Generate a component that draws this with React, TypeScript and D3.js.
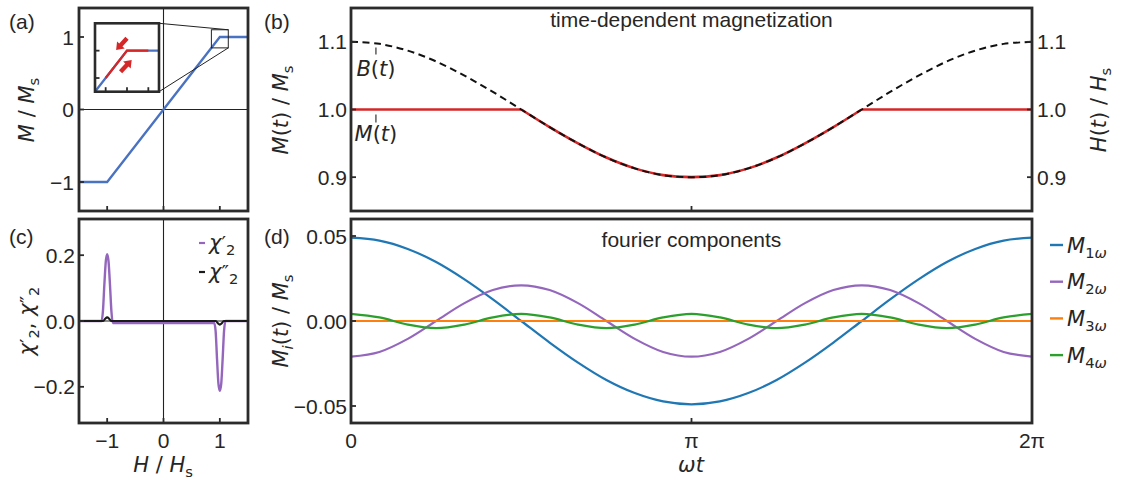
import React from 'react';
import * as d3 from 'd3';

const PI = Math.PI;

// ---------- panel (a): static magnetization curve ----------
const H_STATIC = [-1.5, -1.0, 1.0, 1.5];
const M_STATIC = [-1, -1, 1, 1];
const H_OSC = [0.9, 1.0, 1.1];
const M_OSC = [0.9, 1.0, 1.0];
const A_XTICKS = [-1, 0, 1];
const A_YTICKS = [-1, 0, 1];
const A_YLABELS = ['\u22121', '0', '1'];
const INSET_XDOM = [0.85, 1.15];
const INSET_YDOM = [0.85, 1.1];
const INSET_XTICKS = [0.9, 1.0, 1.1];
const INSET_YTICKS = [0.9, 1.0];
const ARROWS: [number, number][][] = [
  [[1.0, 1.045], [0.949, 1.002]],
  [[0.97, 0.923], [1.022, 0.966]],
];

// ---------- panel (b): time dependent magnetization ----------
const WT_PI = [0, 0.0833, 0.1667, 0.25, 0.3333, 0.4167, 0.5, 0.5833, 0.6667, 0.75, 0.8333, 0.9167, 1,
  1.0833, 1.1667, 1.25, 1.3333, 1.4167, 1.5, 1.5833, 1.6667, 1.75, 1.8333, 1.9167, 2];
const B_T = [1.1, 1.097, 1.087, 1.071, 1.05, 1.026, 1.0, 0.974, 0.95, 0.929, 0.913, 0.903, 0.9,
  0.903, 0.913, 0.929, 0.95, 0.974, 1.0, 1.026, 1.05, 1.071, 1.087, 1.097, 1.1];
const M_FLAT_PI = [[0, 0.5], [1.5, 2]];
const M_DIP_PI = [0.5, 0.5833, 0.6667, 0.75, 0.8333, 0.9167, 1, 1.0833, 1.1667, 1.25, 1.3333, 1.4167, 1.5];
const M_DIP = [1.0, 0.974, 0.95, 0.929, 0.913, 0.903, 0.9, 0.903, 0.913, 0.929, 0.95, 0.974, 1.0];
const M_SAT = 1.0;
const B_YTICKS = [0.9, 1.0, 1.1];
const B_YLABELS = ['0.9', '1.0', '1.1'];
const ANNOT_WT = 0.23;

// ---------- panel (c): second harmonic susceptibility ----------
const CHI1_H = [-1.5, -1.1, -1.075, -1.05, -1.025, -1.0, -0.975, -0.95, -0.925, -0.9,
  0.9, 0.925, 0.95, 0.975, 1.0, 1.025, 1.05, 1.075, 1.1, 1.5];
const CHI1 = [0, 0, 0.03, 0.11, 0.18, 0.203, 0.18, 0.11, 0.03, -0.006,
  -0.006, -0.03, -0.115, -0.19, -0.212, -0.19, -0.115, -0.03, 0, 0];
const CHI2_H = [-1.5, -1.07, -1.035, -1.0, -0.965, -0.93, 0.93, 0.965, 1.0, 1.035, 1.07, 1.5];
const CHI2 = [0, 0, 0.007, 0.011, 0.007, 0, 0, -0.007, -0.011, -0.007, 0, 0];
const C_YTICKS = [-0.2, 0, 0.2];
const C_YLABELS = ['\u22120.2', '0.0', '0.2'];
const C_XLABELS = ['\u22121', '0', '1'];

// ---------- panel (d): fourier components ----------
const M1W = [0.049, 0.0473, 0.0424, 0.0347, 0.0245, 0.0127, 0, -0.0127, -0.0245, -0.0347, -0.0424, -0.0473, -0.049,
  -0.0473, -0.0424, -0.0347, -0.0245, -0.0127, 0, 0.0127, 0.0245, 0.0347, 0.0424, 0.0473, 0.049];
const M2W = [-0.021, -0.0182, -0.0105, 0, 0.0105, 0.0182, 0.021, 0.0182, 0.0105, 0, -0.0105, -0.0182, -0.021,
  -0.0182, -0.0105, 0, 0.0105, 0.0182, 0.021, 0.0182, 0.0105, 0, -0.0105, -0.0182, -0.021];
const M3W = [0, 0, 0, 0, 0, 0, 0, 0, 0, 0, 0, 0, 0, 0, 0, 0, 0, 0, 0, 0, 0, 0, 0, 0, 0];
const M4W = [0.0042, 0.0021, -0.0021, -0.0042, -0.0021, 0.0021, 0.0042, 0.0021, -0.0021, -0.0042, -0.0021, 0.0021, 0.0042,
  0.0021, -0.0021, -0.0042, -0.0021, 0.0021, 0.0042, 0.0021, -0.0021, -0.0042, -0.0021, 0.0021, 0.0042];
const D_YTICKS = [-0.05, 0, 0.05];
const D_YLABELS = ['\u22120.05', '0.00', '0.05'];
const WT_TICKS = [0, PI, 2 * PI];
const WT_LABELS = ['0', '\u03c0', '2\u03c0'];
const FOURIER = [
  { name: '1', values: M1W, color: '#1f77b4' },
  { name: '2', values: M2W, color: '#9467bd' },
  { name: '3', values: M3W, color: '#ff7f0e' },
  { name: '4', values: M4W, color: '#2ca02c' },
];

const FONT = "'Liberation Sans', Arial, Helvetica, sans-serif";
const MATH = "'DejaVu Sans', sans-serif";
const INK = '#262626';
const FRAME = '#2b2b2b';
const BLUE = '#4a72c2';
const RED = '#d62728';
const PURPLE = '#9467bd';
const FS = 21;

type Seg = { t: string; i?: boolean; s?: 'sub' | 'sup'; dx?: number; scale?: number };

function MText({ x, y, segs, size = FS, anchor = 'start', rotate = false }:
  { x: number; y: number; segs: Seg[]; size?: number; anchor?: string; rotate?: boolean }) {
  let cur = 0;
  const kids = segs.map((s, k) => {
    const target = s.s === 'sub' ? size * 0.24 : s.s === 'sup' ? -size * 0.3 : 0;
    const dy = target - cur;
    cur = target;
    return (
      <tspan key={k} dy={dy} dx={s.dx ?? 0} fontStyle={s.i ? 'italic' : 'normal'}
        fontSize={size * (s.scale ?? (s.s ? 0.7 : 1))}>{s.t}</tspan>
    );
  });
  return (
    <text x={x} y={y} textAnchor={anchor as any} fontFamily={MATH} fontSize={size} fill={INK}
      transform={rotate ? `rotate(-90 ${x} ${y})` : undefined}>{kids}</text>
  );
}

const A = { x0: 79, x1: 248, y0: 8, y1: 211 };
const Bp = { x0: 351, x1: 1032, y0: 8, y1: 211 };
const C = { x0: 79, x1: 248, y0: 219, y1: 423 };
const D = { x0: 351, x1: 1032, y0: 219, y1: 423 };

function Frame({ p }: { p: { x0: number; x1: number; y0: number; y1: number } }) {
  return <rect x={p.x0} y={p.y0} width={p.x1 - p.x0} height={p.y1 - p.y0} fill="none" stroke={FRAME} strokeWidth={2.8} />;
}

function arrowPoly(x0: number, y0: number, x1: number, y1: number) {
  const dx = x1 - x0, dy = y1 - y0;
  const L = Math.hypot(dx, dy);
  const ux = dx / L, uy = dy / L, nx = -uy, ny = ux;
  const sw = 2.2, hw = 5.2, hl = 7;
  const bx = x1 - ux * hl, by = y1 - uy * hl;
  const pts = [
    [x0 + nx * sw, y0 + ny * sw], [bx + nx * sw, by + ny * sw], [bx + nx * hw, by + ny * hw],
    [x1, y1], [bx - nx * hw, by - ny * hw], [bx - nx * sw, by - ny * sw], [x0 - nx * sw, y0 - ny * sw],
  ];
  return pts.map(p => p.join(',')).join(' ');
}

const CHI_P: Seg[] = [{ t: '\u03c7', i: true }, { t: '\u2032', scale: 0.95 }, { t: '2', s: 'sub' }];
const CHI_PP: Seg[] = [{ t: '\u03c7', i: true }, { t: '\u2033', scale: 0.95 }, { t: '2', s: 'sub' }];

export default function App() {
  const TL = 5; // tick length
  const xa = d3.scaleLinear().domain([-1.5, 1.5]).range([A.x0, A.x1]);
  const ya = d3.scaleLinear().domain([-1.4, 1.4]).range([A.y1, A.y0]);
  const yc = d3.scaleLinear().domain([-0.31, 0.31]).range([C.y1, C.y0]);
  const xb = d3.scaleLinear().domain([0, 2 * PI]).range([Bp.x0, Bp.x1]);
  const yb = d3.scaleLinear().domain([0.85, 1.15]).range([Bp.y1, Bp.y0]);
  const yd = d3.scaleLinear().domain([-0.06, 0.06]).range([D.y1, D.y0]);
  const xi = d3.scaleLinear().domain(INSET_XDOM).range([95, 159]);
  const yi = d3.scaleLinear().domain(INSET_YDOM).range([91.7, 23.3]);

  const mk = (X: number[], Y: number[]) => X.map((v, k) => [v, Y[k]] as [number, number]);
  const lineA = d3.line<[number, number]>().x(d => xa(d[0])).y(d => ya(d[1]));
  const lineI = d3.line<[number, number]>().x(d => xi(d[0])).y(d => yi(d[1]));
  const lineC = d3.line<[number, number]>().x(d => xa(d[0])).y(d => yc(d[1])).curve(d3.curveMonotoneX);
  const lineB = d3.line<[number, number]>().x(d => xb(d[0] * PI)).y(d => yb(d[1])).curve(d3.curveCatmullRom.alpha(0.5));
  const lineBflat = d3.line<[number, number]>().x(d => xb(d[0] * PI)).y(d => yb(d[1]));
  const lineD = d3.line<[number, number]>().x(d => xb(d[0] * PI)).y(d => yd(d[1])).curve(d3.curveCatmullRom.alpha(0.5));

  const annX = xb(ANNOT_WT);
  const bAt = 1 + 0.1 * Math.cos(ANNOT_WT);

  return (
    <svg width={1128} height={482} style={{ position: 'absolute', left: 0, top: 0, background: '#fff' }}>
      <defs>
        <clipPath id="cA"><rect x={A.x0} y={A.y0} width={A.x1 - A.x0} height={A.y1 - A.y0} /></clipPath>
        <clipPath id="cB"><rect x={Bp.x0} y={Bp.y0} width={Bp.x1 - Bp.x0} height={Bp.y1 - Bp.y0} /></clipPath>
        <clipPath id="cC"><rect x={C.x0} y={C.y0} width={C.x1 - C.x0} height={C.y1 - C.y0} /></clipPath>
        <clipPath id="cD"><rect x={D.x0} y={D.y0} width={D.x1 - D.x0} height={D.y1 - D.y0} /></clipPath>
        <clipPath id="cI"><rect x={95} y={23.3} width={64} height={68.4} /></clipPath>
      </defs>
      <rect x={0} y={0} width={1128} height={482} fill="#fff" />

      {/* ================= panel (a) ================= */}
      <g clipPath="url(#cA)">
        <line x1={xa(0)} x2={xa(0)} y1={A.y0} y2={A.y1} stroke="#222" strokeWidth={1.1} />
        <line x1={A.x0} x2={A.x1} y1={ya(0)} y2={ya(0)} stroke="#222" strokeWidth={1.1} />
        <path d={lineA(mk(H_STATIC, M_STATIC)) || ''} fill="none" stroke={BLUE} strokeWidth={2.3} />
      </g>
      <rect x={xa(INSET_XDOM[0])} y={ya(INSET_YDOM[1])} width={xa(INSET_XDOM[1]) - xa(INSET_XDOM[0])}
        height={ya(INSET_YDOM[0]) - ya(INSET_YDOM[1])} fill="none" stroke="#222" strokeWidth={1} />
      <line x1={159} y1={23.3} x2={xa(INSET_XDOM[1])} y2={ya(INSET_YDOM[1])} stroke="#222" strokeWidth={1} />
      <line x1={159} y1={91.7} x2={xa(INSET_XDOM[1])} y2={ya(INSET_YDOM[0])} stroke="#222" strokeWidth={1} />
      <rect x={95} y={23.3} width={64} height={68.4} fill="#fff" />
      <g clipPath="url(#cI)">
        <path d={lineI(mk(H_STATIC, M_STATIC)) || ''} fill="none" stroke={BLUE} strokeWidth={2.3} />
        <path d={lineI(mk(H_OSC, M_OSC)) || ''} fill="none" stroke={RED} strokeWidth={2.3} />
      </g>
      {ARROWS.map((a, k) => (
        <polygon key={k} points={arrowPoly(xi(a[0][0]), yi(a[0][1]), xi(a[1][0]), yi(a[1][1]))} fill={RED} />
      ))}
      {INSET_XTICKS.map(t => <line key={t} x1={xi(t)} x2={xi(t)} y1={91.7} y2={91.7 - 4.5} stroke={FRAME} strokeWidth={1.8} />)}
      {INSET_YTICKS.map(t => <line key={t} x1={95} x2={95 + 4.5} y1={yi(t)} y2={yi(t)} stroke={FRAME} strokeWidth={1.8} />)}
      <rect x={95} y={23.3} width={64} height={68.4} fill="none" stroke={FRAME} strokeWidth={2.6} />

      {A_XTICKS.map(t => <line key={t} x1={xa(t)} x2={xa(t)} y1={A.y1} y2={A.y1 - TL} stroke={FRAME} strokeWidth={1.8} />)}
      {A_YTICKS.map((t, k) => (
        <g key={t}>
          <line x1={A.x0} x2={A.x0 + TL} y1={ya(t)} y2={ya(t)} stroke={FRAME} strokeWidth={1.8} />
          <text x={A.x0 - 5} y={ya(t) + 7.5} textAnchor="end" fontFamily={FONT} fontSize={FS} fill={INK}>{A_YLABELS[k]}</text>
        </g>
      ))}
      <Frame p={A} />
      <text x={9} y={29} fontFamily={FONT} fontSize={FS} fill={INK}>(a)</text>
      <MText x={34} y={110} anchor="middle" rotate segs={[{ t: 'M', i: true }, { t: ' / ' }, { t: 'M', i: true }, { t: 's', s: 'sub' }]} />

      {/* ================= panel (b) ================= */}
      <g clipPath="url(#cB)">
        {M_FLAT_PI.map((seg, k) => (
          <path key={k} d={lineBflat([[seg[0], M_SAT], [seg[1], M_SAT]]) || ''} fill="none" stroke={RED} strokeWidth={2.6} />
        ))}
        <path d={lineB(mk(M_DIP_PI, M_DIP)) || ''} fill="none" stroke={RED} strokeWidth={2.6} />
        <path d={lineB(mk(WT_PI, B_T)) || ''} fill="none" stroke="#111" strokeWidth={2} strokeDasharray="7,4.5" />
      </g>
      <line x1={annX} x2={annX} y1={yb(bAt) + 4} y2={yb(bAt) + 11} stroke="#333" strokeWidth={1.2} />
      <line x1={annX} x2={annX} y1={yb(1.0) + 5} y2={yb(1.0) + 13} stroke="#333" strokeWidth={1.2} />
      <MText x={annX} y={76} anchor="middle" segs={[{ t: 'B', i: true }, { t: '(' }, { t: 't', i: true }, { t: ')' }]} />
      <MText x={annX} y={141} anchor="middle" segs={[{ t: 'M', i: true }, { t: '(' }, { t: 't', i: true }, { t: ')' }]} />
      <line x1={xb(PI)} x2={xb(PI)} y1={Bp.y1} y2={Bp.y1 - TL} stroke={FRAME} strokeWidth={1.8} />
      {B_YTICKS.map((t, k) => (
        <g key={t}>
          <line x1={Bp.x0} x2={Bp.x0 + TL} y1={yb(t)} y2={yb(t)} stroke={FRAME} strokeWidth={1.8} />
          <line x1={Bp.x1} x2={Bp.x1 - TL} y1={yb(t)} y2={yb(t)} stroke={FRAME} strokeWidth={1.8} />
          <text x={Bp.x0 - 4} y={yb(t) + 7.5} textAnchor="end" fontFamily={FONT} fontSize={FS} fill={INK}>{B_YLABELS[k]}</text>
          <text x={Bp.x1 + 5} y={yb(t) + 7.5} textAnchor="start" fontFamily={FONT} fontSize={FS} fill={INK}>{B_YLABELS[k]}</text>
        </g>
      ))}
      <Frame p={Bp} />
      <text x={(Bp.x0 + Bp.x1) / 2} y={27} textAnchor="middle" fontFamily={FONT} fontSize={FS} fill={INK}>time-dependent magnetization</text>
      <text x={264} y={29} fontFamily={FONT} fontSize={FS} fill={INK}>(b)</text>
      <MText x={288} y={110} anchor="middle" rotate segs={[{ t: 'M', i: true }, { t: '(' }, { t: 't', i: true }, { t: ') / ' }, { t: 'M', i: true }, { t: 's', s: 'sub' }]} />
      <MText x={1106} y={110} anchor="middle" rotate segs={[{ t: 'H', i: true }, { t: '(' }, { t: 't', i: true }, { t: ') / ' }, { t: 'H', i: true }, { t: 's', s: 'sub' }]} />

      {/* ================= panel (c) ================= */}
      <g clipPath="url(#cC)">
        <line x1={xa(0)} x2={xa(0)} y1={C.y0} y2={C.y1} stroke="#222" strokeWidth={1.1} />
        <path d={lineC(mk(CHI1_H, CHI1)) || ''} fill="none" stroke={PURPLE} strokeWidth={2.4} />
        <line x1={C.x0} x2={C.x1} y1={yc(0)} y2={yc(0)} stroke="#222" strokeWidth={1.1} />
        <path d={lineC(mk(CHI2_H, CHI2)) || ''} fill="none" stroke="#1a1a1a" strokeWidth={2.2} />
      </g>
      {A_XTICKS.map((t, k) => (
        <g key={t}>
          <line x1={xa(t)} x2={xa(t)} y1={C.y1} y2={C.y1 - TL} stroke={FRAME} strokeWidth={1.8} />
          <text x={xa(t)} y={448} textAnchor="middle" fontFamily={FONT} fontSize={FS} fill={INK}>{C_XLABELS[k]}</text>
        </g>
      ))}
      {C_YTICKS.map((t, k) => (
        <g key={t}>
          <line x1={C.x0} x2={C.x0 + TL} y1={yc(t)} y2={yc(t)} stroke={FRAME} strokeWidth={1.8} />
          <text x={C.x0 - 4} y={yc(t) + 7.5} textAnchor="end" fontFamily={FONT} fontSize={FS} fill={INK}>{C_YLABELS[k]}</text>
        </g>
      ))}
      <Frame p={C} />
      <line x1={199} x2={205} y1={243} y2={243} stroke={PURPLE} strokeWidth={2.2} />
      <MText x={209} y={250} segs={CHI_P} />
      <line x1={199} x2={205} y1={272} y2={272} stroke="#1a1a1a" strokeWidth={2.2} />
      <MText x={209} y={279} segs={CHI_PP} />
      <text x={9} y={244} fontFamily={FONT} fontSize={FS} fill={INK}>(c)</text>
      <MText x={34} y={321} anchor="middle" rotate segs={[...CHI_P, { t: ', ' }, ...CHI_PP]} />
      <MText x={163} y={472} anchor="middle" segs={[{ t: 'H', i: true }, { t: ' / ' }, { t: 'H', i: true }, { t: 's', s: 'sub' }]} />

      {/* ================= panel (d) ================= */}
      <g clipPath="url(#cD)">
        {FOURIER.map(f => (
          <path key={f.name} d={lineD(mk(WT_PI, f.values)) || ''} fill="none" stroke={f.color} strokeWidth={2.2} />
        ))}
      </g>
      <line x1={xb(PI)} x2={xb(PI)} y1={D.y1} y2={D.y1 - TL} stroke={FRAME} strokeWidth={1.8} />
      {WT_TICKS.map((t, k) => (
        <text key={k} x={xb(t)} y={448} textAnchor="middle" fontFamily={FONT} fontSize={FS} fill={INK}>{WT_LABELS[k]}</text>
      ))}
      {D_YTICKS.map((t, k) => (
        <g key={t}>
          <line x1={D.x0} x2={D.x0 + TL} y1={yd(t)} y2={yd(t)} stroke={FRAME} strokeWidth={1.8} />
          <text x={D.x0 - 4} y={yd(t) + 7.5} textAnchor="end" fontFamily={FONT} fontSize={FS} fill={INK}>{D_YLABELS[k]}</text>
        </g>
      ))}
      <Frame p={D} />
      <text x={(D.x0 + D.x1) / 2} y={247} textAnchor="middle" fontFamily={FONT} fontSize={FS} fill={INK}>fourier components</text>
      <text x={264} y={244} fontFamily={FONT} fontSize={FS} fill={INK}>(d)</text>
      {FOURIER.map((f, k) => {
        const ly = 245 + k * 36.7;
        return (
          <g key={f.name}>
            <line x1={1050} x2={1063} y1={ly} y2={ly} stroke={f.color} strokeWidth={2.4} />
            <MText x={1067} y={ly + 7.5} segs={[{ t: 'M', i: true }, { t: f.name, s: 'sub' }, { t: '\u03c9', s: 'sub', i: true }]} />
          </g>
        );
      })}
      <MText x={288} y={321} anchor="middle" rotate segs={[{ t: 'M', i: true }, { t: 'i', s: 'sub', i: true }, { t: '(' }, { t: 't', i: true }, { t: ') / ' }, { t: 'M', i: true }, { t: 's', s: 'sub' }]} />
      <MText x={691} y={472} anchor="middle" segs={[{ t: '\u03c9t', i: true }]} />
    </svg>
  );
}
